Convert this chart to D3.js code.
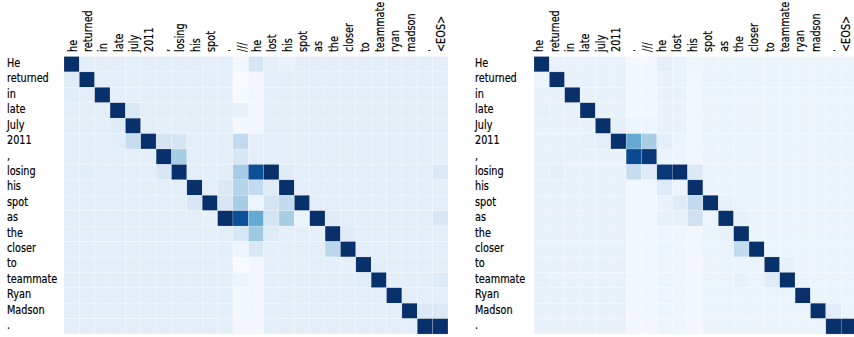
<!DOCTYPE html>
<html>
<head>
<meta charset="utf-8">
<script src="https://cdn.jsdelivr.net/npm/d3@7"></script>
<style>
  body { margin: 0; background: #fff; }
  svg { display: block; }
  .tick text { font-family: "DejaVu Sans", sans-serif; font-size: 12.6px; fill: #000; stroke: #000; stroke-width: 0.2px; }
</style>
</head>
<body>
<div id="chart"></div>
<script>
// source sentence (rows, shared by both maps)
const rowLabels = ["He", "returned", "in", "late", "July", "2011", ",", "losing", "his",
  "spot", "as", "the", "closer", "to", "teammate", "Ryan", "Madson", "."];

// target tokens, left and right maps
const leftCols = ["he", "returned", "in", "late", "july", "2011", ",", "losing", "his", "spot",
  ".", "///", "he", "lost", "his", "spot", "as", "the", "closer", "to", "teammate", "ryan",
  "madson", ".", "<EOS>"];
const rightCols = ["he", "returned", "in", "late", "july", "2011", ".", "///", "he", "lost",
  "his", "spot", "as", "the", "closer", "to", "teammate", "ryan", "madson", ".", "<EOS>"];

// attention weights in percent
const leftWeights = [
  [100,10,10,10,9,10,10,10,10,9,9,2,17,9,7,10,10,10,10,10,10,10,10,10,10],
  [12,100,10,10,9,10,10,10,10,10,9,0,3,9,10,10,10,10,10,10,10,10,10,10,10],
  [11,10,100,10,9,10,10,10,10,10,9,1,3,9,10,10,10,10,10,10,10,10,10,10,10],
  [10,10,10,100,15,10,10,10,10,10,9,7,3,10,10,10,10,10,10,10,10,10,10,10,10],
  [10,10,10,12,100,10,9,10,10,10,9,2,3,10,10,10,10,10,10,10,10,10,10,10,10],
  [10,10,10,11,24,100,17,17,10,10,10,26,9,10,10,10,10,10,10,10,10,10,10,10,10],
  [10,10,10,10,9,9,100,34,10,10,10,16,10,10,10,10,10,10,10,10,10,10,10,10,10],
  [10,11,10,10,10,9,16,100,10,10,11,35,88,100,12,10,10,10,10,10,10,10,10,10,14],
  [10,10,10,10,10,10,10,10,100,10,14,30,25,12,100,10,10,10,10,10,10,10,10,10,10],
  [10,10,10,10,10,10,10,10,16,100,16,34,5,18,26,100,10,10,10,10,10,10,10,10,10],
  [10,10,10,10,10,10,10,10,10,8,100,88,52,18,34,6,100,12,10,10,10,10,10,10,16],
  [10,10,10,10,10,10,10,10,10,10,10,16,37,12,9,9,9,100,12,10,10,10,10,10,10],
  [10,10,10,10,10,10,10,10,10,10,10,5,15,9,9,10,10,28,100,10,10,10,10,10,10],
  [10,10,10,10,10,10,10,10,10,10,9,0,2,9,9,9,10,10,9,100,11,10,10,10,10],
  [10,10,10,10,10,10,10,10,10,10,9,5,3,9,9,10,10,10,10,11,100,10,10,10,13],
  [10,10,10,10,10,10,10,10,10,10,9,2,3,9,10,10,10,10,10,10,10,100,10,10,10],
  [10,10,10,10,10,10,10,10,10,10,9,2,3,9,10,10,10,10,10,10,10,10,100,14,14],
  [10,10,10,10,10,10,10,10,10,10,9,3,3,9,10,10,10,10,10,10,10,10,9,100,100]
];

const rightWeights = [
  [100,7,7,7,7,7,2,2,9,7,4,6,6,6,6,6,6,6,6,6,6],
  [6,100,7,7,7,7,2,2,7,7,3,6,6,6,6,6,6,6,6,6,6],
  [7,7,100,7,7,7,2,2,7,7,3,6,6,6,6,6,6,6,6,6,6],
  [8,7,7,100,7,7,2,2,7,7,3,6,6,6,6,6,6,6,6,6,6],
  [7,7,7,7,100,9,5,5,7,7,3,6,6,6,6,6,6,6,6,6,6],
  [7,7,7,8,10,100,52,34,9,6,3,6,6,6,6,6,6,6,6,6,6],
  [7,7,7,7,7,7,90,97,6,5,3,6,6,6,6,6,6,6,6,6,6],
  [8,9,7,7,7,7,24,12,97,100,14,6,6,6,6,6,6,6,6,6,6],
  [7,7,7,7,7,7,3,3,13,5,100,6,6,6,6,6,6,6,6,6,6],
  [7,7,7,7,7,7,3,3,7,12,25,100,8,6,6,6,6,6,6,6,6],
  [7,7,7,7,7,7,3,3,8,8,20,5,100,8,6,6,6,6,6,6,6],
  [7,7,7,7,7,7,2,3,5,4,3,6,7,100,6,6,6,6,6,6,6],
  [7,7,7,7,7,7,2,3,5,4,3,6,6,25,100,6,6,6,6,6,6],
  [7,7,7,7,7,7,2,2,5,4,2,6,6,6,6,100,8,6,6,6,6],
  [8,7,7,7,7,7,2,2,5,4,2,6,6,8,6,12,100,6,6,6,6],
  [7,7,7,7,7,7,2,2,5,4,2,6,6,6,6,6,6,100,6,6,6],
  [7,7,7,7,7,7,2,2,5,4,2,6,6,6,6,6,6,6,100,11,6],
  [7,7,7,7,7,7,2,2,5,4,2,6,6,6,6,6,6,6,6,100,100]
];

const width = 854;
const height = 337;
const cellW = 15.36;
const cellH = 15.42;
const mapTop = 56.5;
const squeeze = 0.77; // labels in the picture are narrow

const color = d3.scaleSequential(d3.interpolateBlues).domain([0, 100]);

const svg = d3.select("#chart")
  .append("svg")
  .attr("width", width)
  .attr("height", height);

function drawMap(cols, weights, x0, labelX, tickShift) {
  const x = d3.scaleBand()
    .domain(d3.range(cols.length))
    .range([x0, x0 + cols.length * cellW]);
  const y = d3.scaleBand()
    .domain(d3.range(rowLabels.length))
    .range([mapTop, mapTop + rowLabels.length * cellH]);

  const g = svg.append("g");

  const cells = [];
  weights.forEach((row, r) => row.forEach((v, c) => cells.push({ r, c, v })));

  g.selectAll("rect")
    .data(cells)
    .enter().append("rect")
    .attr("x", d => x(d.c))
    .attr("y", d => y(d.r))
    .attr("width", x.bandwidth())
    .attr("height", y.bandwidth())
    .attr("fill", d => color(d.v))
    .attr("stroke", "#fff")
    .attr("stroke-opacity", 0.35)
    .attr("stroke-width", 0.5);

  // column labels, vertical
  const xAxis = d3.axisTop(x).tickSize(0).tickFormat(i => cols[i]);
  const gx = svg.append("g")
    .attr("transform", `translate(0, ${mapTop})`)
    .call(xAxis);
  gx.select(".domain").remove();
  gx.selectAll("text")
    .attr("x", 0)
    .attr("y", 0)
    .attr("dy", null)
    .attr("text-anchor", "start")
    .attr("transform", `translate(${tickShift}, -4.5) rotate(-90) scale(${squeeze}, 1)`);

  // row labels
  const yAxis = d3.axisLeft(y).tickSize(0).tickFormat(i => rowLabels[i]);
  const gy = svg.append("g")
    .attr("transform", `translate(${x0}, 0)`)
    .call(yAxis);
  gy.select(".domain").remove();
  gy.selectAll("text")
    .attr("x", 0)
    .attr("dy", null)
    .attr("text-anchor", "start")
    .attr("transform", `translate(${labelX - x0}, 2.8) scale(${squeeze}, 1)`);
}

drawMap(leftCols, leftWeights, 64, 7, 5);
drawMap(rightCols, rightWeights, 534, 475, 1.5);
</script>
</body>
</html>
